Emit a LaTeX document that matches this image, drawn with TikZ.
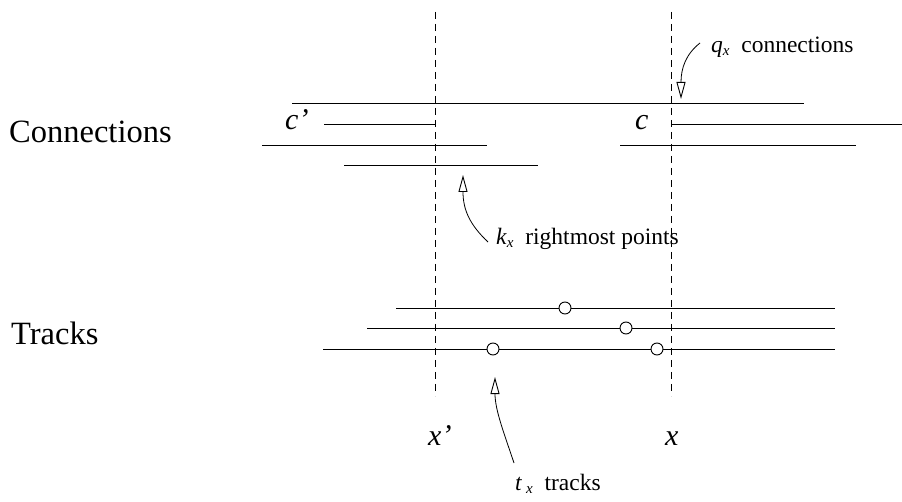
\documentclass[tikz,border=0pt]{standalone}
\usepackage{fontspec}
\setmainfont{Liberation Serif}
\usetikzlibrary{arrows.meta}
\begin{document}
\begin{tikzpicture}[x=1pt,y=-1pt,
  seg/.style={line width=0.9pt},
  guide/.style={line width=0.9pt, dash pattern=on 7pt off 5pt},
  pin/.style={line width=0.8pt, -{Triangle[open,length=17pt,width=9pt,line width=0.9pt]}},
  dot/.style={circle, draw, fill=white, line width=0.9pt, minimum size=12pt, inner sep=0pt},
  big/.style={inner sep=0pt, anchor=base west, font=\fontsize{32.5}{32.5}\selectfont},
  var/.style={inner sep=0pt, anchor=base west, font=\fontsize{30}{30}\selectfont\itshape},
  small/.style={inner sep=0pt, anchor=base west, font=\fontsize{23.5}{23.5}\selectfont}]
\useasboundingbox (0,0) rectangle (902,502);
% guides
\coordinate (g1t) at (435,12); \coordinate (g1b) at (435,396);
\coordinate (g2t) at (671,12); \coordinate (g2b) at (671,396);
\draw[guide] (g1t) -- (g1b);
\draw[guide] (g2t) -- (g2b);
% connections
\coordinate (a1) at (292,103); \coordinate (a2) at (804,103);
\coordinate (b1) at (324,124); \coordinate (b2) at (435,124);
\coordinate (b3) at (672,124); \coordinate (b4) at (902,124);
\coordinate (d1) at (262,145); \coordinate (d2) at (487,145);
\coordinate (d3) at (620,145); \coordinate (d4) at (856,145);
\coordinate (e1) at (344,165); \coordinate (e2) at (538,165);
\draw[seg] (a1) -- (a2);
\draw[seg] (b1) -- (b2);
\draw[seg] (b3) -- (b4);
\draw[seg] (d1) -- (d2);
\draw[seg] (d3) -- (d4);
\draw[seg] (e1) -- (e2);
% tracks
\coordinate (t1a) at (396,308); \coordinate (t1b) at (835,308);
\coordinate (t2a) at (367,328); \coordinate (t2b) at (835,328);
\coordinate (t3a) at (323,349); \coordinate (t3b) at (835,349);
\draw[seg] (t1a) -- (t1b);
\draw[seg] (t2a) -- (t2b);
\draw[seg] (t3a) -- (t3b);
\node[dot] (p1) at (565,308) {};
\node[dot] (p2) at (626,328) {};
\node[dot] (p3) at (493,349) {};
\node[dot] (p4) at (657,349) {};
% labels
\node[big] (lc) at (9,143) {Connections};
\node[big] (lt) at (11,345) {Tracks};
\node[var] (cp) at (285,130) {c’};
\node[var] (cc) at (635,130) {c};
\node[var] (xp) at (428,445) {x’};
\node[var] (xx) at (665,445) {x};
\node[small] (ql) at (711,53) {\textit{q}\raisebox{-3pt}{\fontsize{15}{15}\selectfont\textit{x}}\ \ connections};
\node[small] (kl) at (496,245) {\textit{k}\raisebox{-3pt}{\fontsize{15}{15}\selectfont\textit{x}}\ \ rightmost points};
\node[small] (tl) at (515,490) {\textit{t}\,\raisebox{-3pt}{\fontsize{15}{15}\selectfont\textit{x}}\ \ tracks};
% pointers
\coordinate (qs) at (700,43); \coordinate (qe) at (681,99);
\coordinate (ks) at (488,242); \coordinate (ke) at (463,175);
\coordinate (ts) at (514,463); \coordinate (te) at (495,377);
\draw[pin] (qs) .. controls (686,54) and (681,68) .. (qe);
\draw[pin] (ks) .. controls (470,225) and (463,210) .. (ke);
\draw[pin] (ts) .. controls (504,433) and (495,410) .. (te);
\end{tikzpicture}
\end{document}
